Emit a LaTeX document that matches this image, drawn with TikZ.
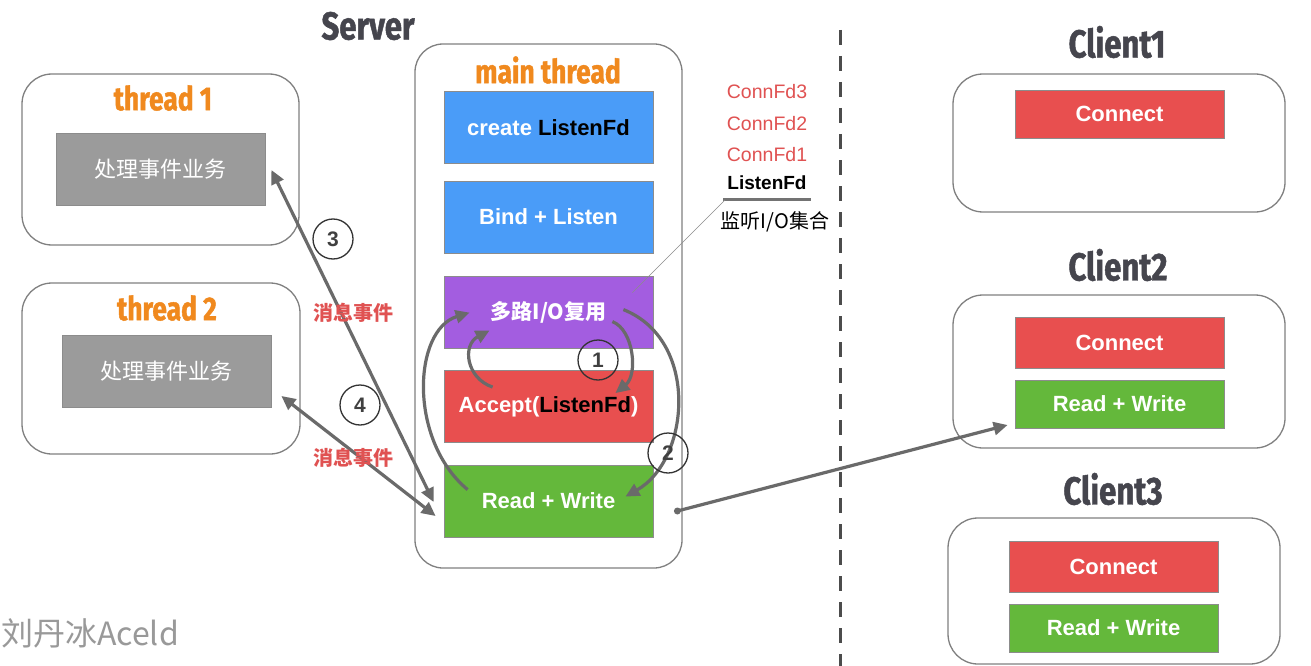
\documentclass[tikz,border=0pt]{standalone}
\usepackage{fontspec}
\setmainfont{Liberation Sans}
\newfontfamily\cjk{Noto Sans CJK SC}
\newfontfamily\handfont{Fira Sans}[FakeStretch=0.8, BoldFeatures={FakeBold=1.2}]
\usetikzlibrary{arrows.meta,calc}
\definecolor{blueB}{HTML}{4A9CF8}
\definecolor{purpleB}{HTML}{A35DE0}
\definecolor{redB}{HTML}{E84F4F}
\definecolor{greenB}{HTML}{64B83B}
\definecolor{grayB}{HTML}{9B9B9B}
\definecolor{orangeT}{HTML}{F0891E}
\definecolor{darkT}{HTML}{45454D}
\definecolor{arrowG}{HTML}{6A6A6A}
\definecolor{redT}{HTML}{E05252}
\tikzset{
  box/.style={draw=black!45, line width=0.8pt, minimum width=209pt, minimum height=72pt,
    inner sep=0pt, text=white, font=\fontsize{22}{26}\selectfont\bfseries},
  cont/.style={draw=black!50, line width=1.3pt, rounded corners=28pt, inner sep=0pt},
  ttl/.style={font=\handfont\bfseries\fontsize{33}{36}\selectfont, text=orangeT, inner sep=0pt},
  bigttl/.style={font=\handfont\bfseries\fontsize{39}{42}\selectfont, text=darkT, inner sep=0pt},
  arr/.style={draw=arrowG, line width=3.2pt, -{Triangle[length=14pt,width=13pt]}},
  darr/.style={draw=arrowG, line width=3.2pt, {Triangle[length=14pt,width=13pt]}-{Triangle[length=14pt,width=13pt]}},
  num/.style={circle, draw=black!80, line width=1.3pt, minimum size=40pt, inner sep=0pt,
    font=\fontsize{21}{23}\selectfont\bfseries, text=black!75},
  fdlbl/.style={font=\fontsize{19.5}{21}\selectfont, text=redT, inner sep=0pt},
  evt/.style={font=\cjk\bfseries\fontsize{20}{22}\selectfont, text=redT, inner sep=0pt},
}
\begin{document}
\begin{tikzpicture}[x=1pt,y=-1pt]
\useasboundingbox[fill=white] (0,0) rectangle (1311,666);

% divider
\draw[draw=black!70, line width=3pt, dash pattern=on 15pt off 11pt] (840,30) -- (840,666);

% server
\node[bigttl] (srv) at (368,26) {Server};
\node[cont, minimum width=267pt, minimum height=524pt] (mainc) at (548.5,306) {};
\node[ttl] (mt) at (548,70) {main thread};
\node[box, fill=blueB] (create) at (548.5,127.5) {create \textcolor{black}{ListenFd}};
\node[box, fill=blueB] (bind) at (548.5,217) {Bind + Listen};
\node[box, fill=purpleB, font=\cjk\bfseries\fontsize{21}{24}\selectfont] (mux) at (548.5,312) {多路I/O复用};
\node[box, fill=redB] (accept) at (548.5,406.5) {Accept(\textcolor{black}{ListenFd})};
\node[box, fill=greenB] (rw) at (548.5,501) {Read + Write};

% threads
\node[cont, minimum width=277pt, minimum height=171pt, rounded corners=30pt] (t1c) at (160.5,159.5) {};
\node[ttl] (t1t) at (163,98) {thread 1};
\node[box, fill=grayB, font=\cjk\fontsize{22}{26}\selectfont] (t1box) at (160.5,169) {处理事件业务};
\node[cont, minimum width=278pt, minimum height=171pt, rounded corners=30pt] (t2c) at (161,368.5) {};
\node[ttl] (t2t) at (167,308) {thread 2};
\node[box, fill=grayB, font=\cjk\fontsize{22}{26}\selectfont] (t2box) at (166.5,371) {处理事件业务};

% clients
\node[bigttl] (cl1) at (1117,42) {Client1};
\node[cont, minimum width=332pt, minimum height=138pt, rounded corners=30pt] (c1c) at (1119,143) {};
\node[box, fill=redB, minimum height=48pt] (c1conn) at (1119.5,114) {Connect};
\node[bigttl] (cl2) at (1118,265) {Client2};
\node[cont, minimum width=332pt, minimum height=153pt, rounded corners=30pt] (c2c) at (1119,371.5) {};
\node[box, fill=redB, minimum height=51pt] (c2conn) at (1119.5,342.5) {Connect};
\node[box, fill=greenB, minimum height=48pt] (c2rw) at (1119.5,404) {Read + Write};
\node[bigttl] (cl3) at (1113,489) {Client3};
\node[cont, minimum width=332pt, minimum height=146pt, rounded corners=30pt] (c3c) at (1114,591) {};
\node[box, fill=redB, minimum height=51pt] (c3conn) at (1113.5,566.5) {Connect};
\node[box, fill=greenB, minimum height=48pt] (c3rw) at (1113.5,628) {Read + Write};

% fd set
\node[fdlbl] (fd3) at (767,92) {ConnFd3};
\node[fdlbl] (fd2) at (767,124) {ConnFd2};
\node[fdlbl] (fd1) at (767,155) {ConnFd1};
\node[font=\fontsize{19}{21}\selectfont\bfseries, inner sep=0pt] (lfd) at (767,183) {ListenFd};
\coordinate (ul) at (723,199);
\coordinate (ur) at (811,199);
\draw[draw=black!55, line width=3pt] (ul) -- (ur);
\node[font=\cjk\fontsize{20}{22}\selectfont, inner sep=0pt] (set) at (775,222) {监听I/O集合};
\draw[draw=black!45, line width=0.6pt] ($(ul)+(2,1)$) -- ($(mux.north east)+(-21,17)$);

% arrows to threads
\draw[darr] ($(rw.west)+(-10,1)$) -- ($(t1box.east)+(6,1)$);
\draw[darr] ($(rw.west)+(-8,15)$) -- ($(t2box.east)+(10,25)$);
\node[num] (n3) at (333,239) {3};
\node[num] (n4) at (360,405) {4};
\node[evt] (e1) at (353,313) {消息事件};
\node[evt] (e2) at (353,458) {消息事件};

% loops inside main thread
\draw[arr] ($(accept.north west)+(49,17)$) .. controls (466,378) and (462,345) .. ($(mux.south west)+(46,-18)$);
\draw[arr] ($(mux.north east)+(-41,46)$) .. controls (634,330) and (638,375) .. ($(accept.north east)+(-38,23)$);
\draw[arr] ($(rw.north west)+(24,25)$) .. controls (408,440) and (413,330) .. ($(mux.north west)+(26,37)$);
\draw[arr] ($(mux.north east)+(-30,34)$) .. controls (700,340) and (690,460) .. ($(rw.north east)+(-28,32)$);
\node[num] (n1) at (598,360) {1};
\node[num] (n2) at (668,453) {2};

% to client 2
\coordinate (cs) at ($(rw.east)+(24,10)$);
\fill[arrowG] (cs) circle (3.5pt);
\draw[arr] (cs) -- ($(c2rw.west)+(-7,21)$);

% watermark
\node[anchor=west, font=\cjk\fontsize{32}{34}\selectfont, text=black!40, inner sep=0pt] (wm) at (1,633) {刘丹冰Aceld};
\end{tikzpicture}
\end{document}
